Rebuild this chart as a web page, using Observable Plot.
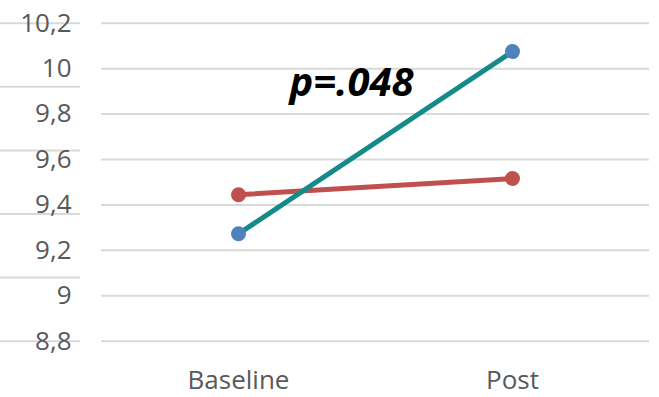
<!DOCTYPE html>
<html>
<head>
<meta charset="utf-8">
<script src="https://cdn.jsdelivr.net/npm/d3@7"></script>
<script src="https://cdn.jsdelivr.net/npm/@observablehq/plot@0.6"></script>
<style>
  html, body { margin: 0; padding: 0; background: #fff; }
  svg { display: block; }
</style>
</head>
<body>
<div id="chart"></div>
<script>
const categories = ["Baseline", "Post"];
const seriesTeal = [9.273, 10.075];
const seriesRed = [9.445, 9.516];
const yTicks = [8.8, 9.0, 9.2, 9.4, 9.6, 9.8, 10.0, 10.2];
const leftStubLines = [8.8, 9.08, 9.36, 9.64, 9.92, 10.2];
const annotation = [{label: "p=.048", x: "Baseline", y: 9.935}];

const data = [
  ...categories.map((c, i) => ({cat: c, value: seriesTeal[i], series: "teal"})),
  ...categories.map((c, i) => ({cat: c, value: seriesRed[i], series: "red"}))
];

const fmt = v => (Math.round(v * 10) / 10).toString().replace(".", ",");

const chart = Plot.plot({
  width: 659,
  height: 397,
  marginLeft: 101,
  marginRight: 10,
  marginTop: 22.7,
  marginBottom: 56.3,
  style: {fontFamily: "'Open Sans', sans-serif", background: "#fff"},
  x: {type: "point", domain: categories, padding: 0.5, label: null},
  y: {domain: [8.8, 10.2], label: null},
  marks: [
    Plot.ruleY(yTicks, {stroke: "#d9d9d9", strokeWidth: 2}),
    Plot.ruleY(leftStubLines, {stroke: "#d9d9d9", strokeWidth: 2, insetLeft: -101, insetRight: 569}),
    Plot.axisY(yTicks, {tickSize: 0, tickPadding: 30, fontSize: 26, fill: "#595959", tickFormat: fmt, label: null}),
    Plot.axisX({tickSize: 0, tickPadding: 29, fontSize: 26, fill: "#595959", label: null}),
    Plot.line(data.filter(d => d.series === "red"), {x: "cat", y: "value", stroke: "#c0504d", strokeWidth: 5}),
    Plot.line(data.filter(d => d.series === "teal"), {x: "cat", y: "value", stroke: "#138b8b", strokeWidth: 5}),
    Plot.dot(data.filter(d => d.series === "red"), {x: "cat", y: "value", r: 7.5, fill: "#c0504d", stroke: "none"}),
    Plot.dot(data.filter(d => d.series === "teal"), {x: "cat", y: "value", r: 7.5, fill: "#4f81bd", stroke: "none"}),
    Plot.text(annotation, {x: "x", y: "y", text: "label", dx: 113, fontSize: 40, fontWeight: "bold", fontStyle: "italic", fill: "#000"})
  ]
});
document.getElementById("chart").appendChild(chart);
</script>
</body>
</html>
